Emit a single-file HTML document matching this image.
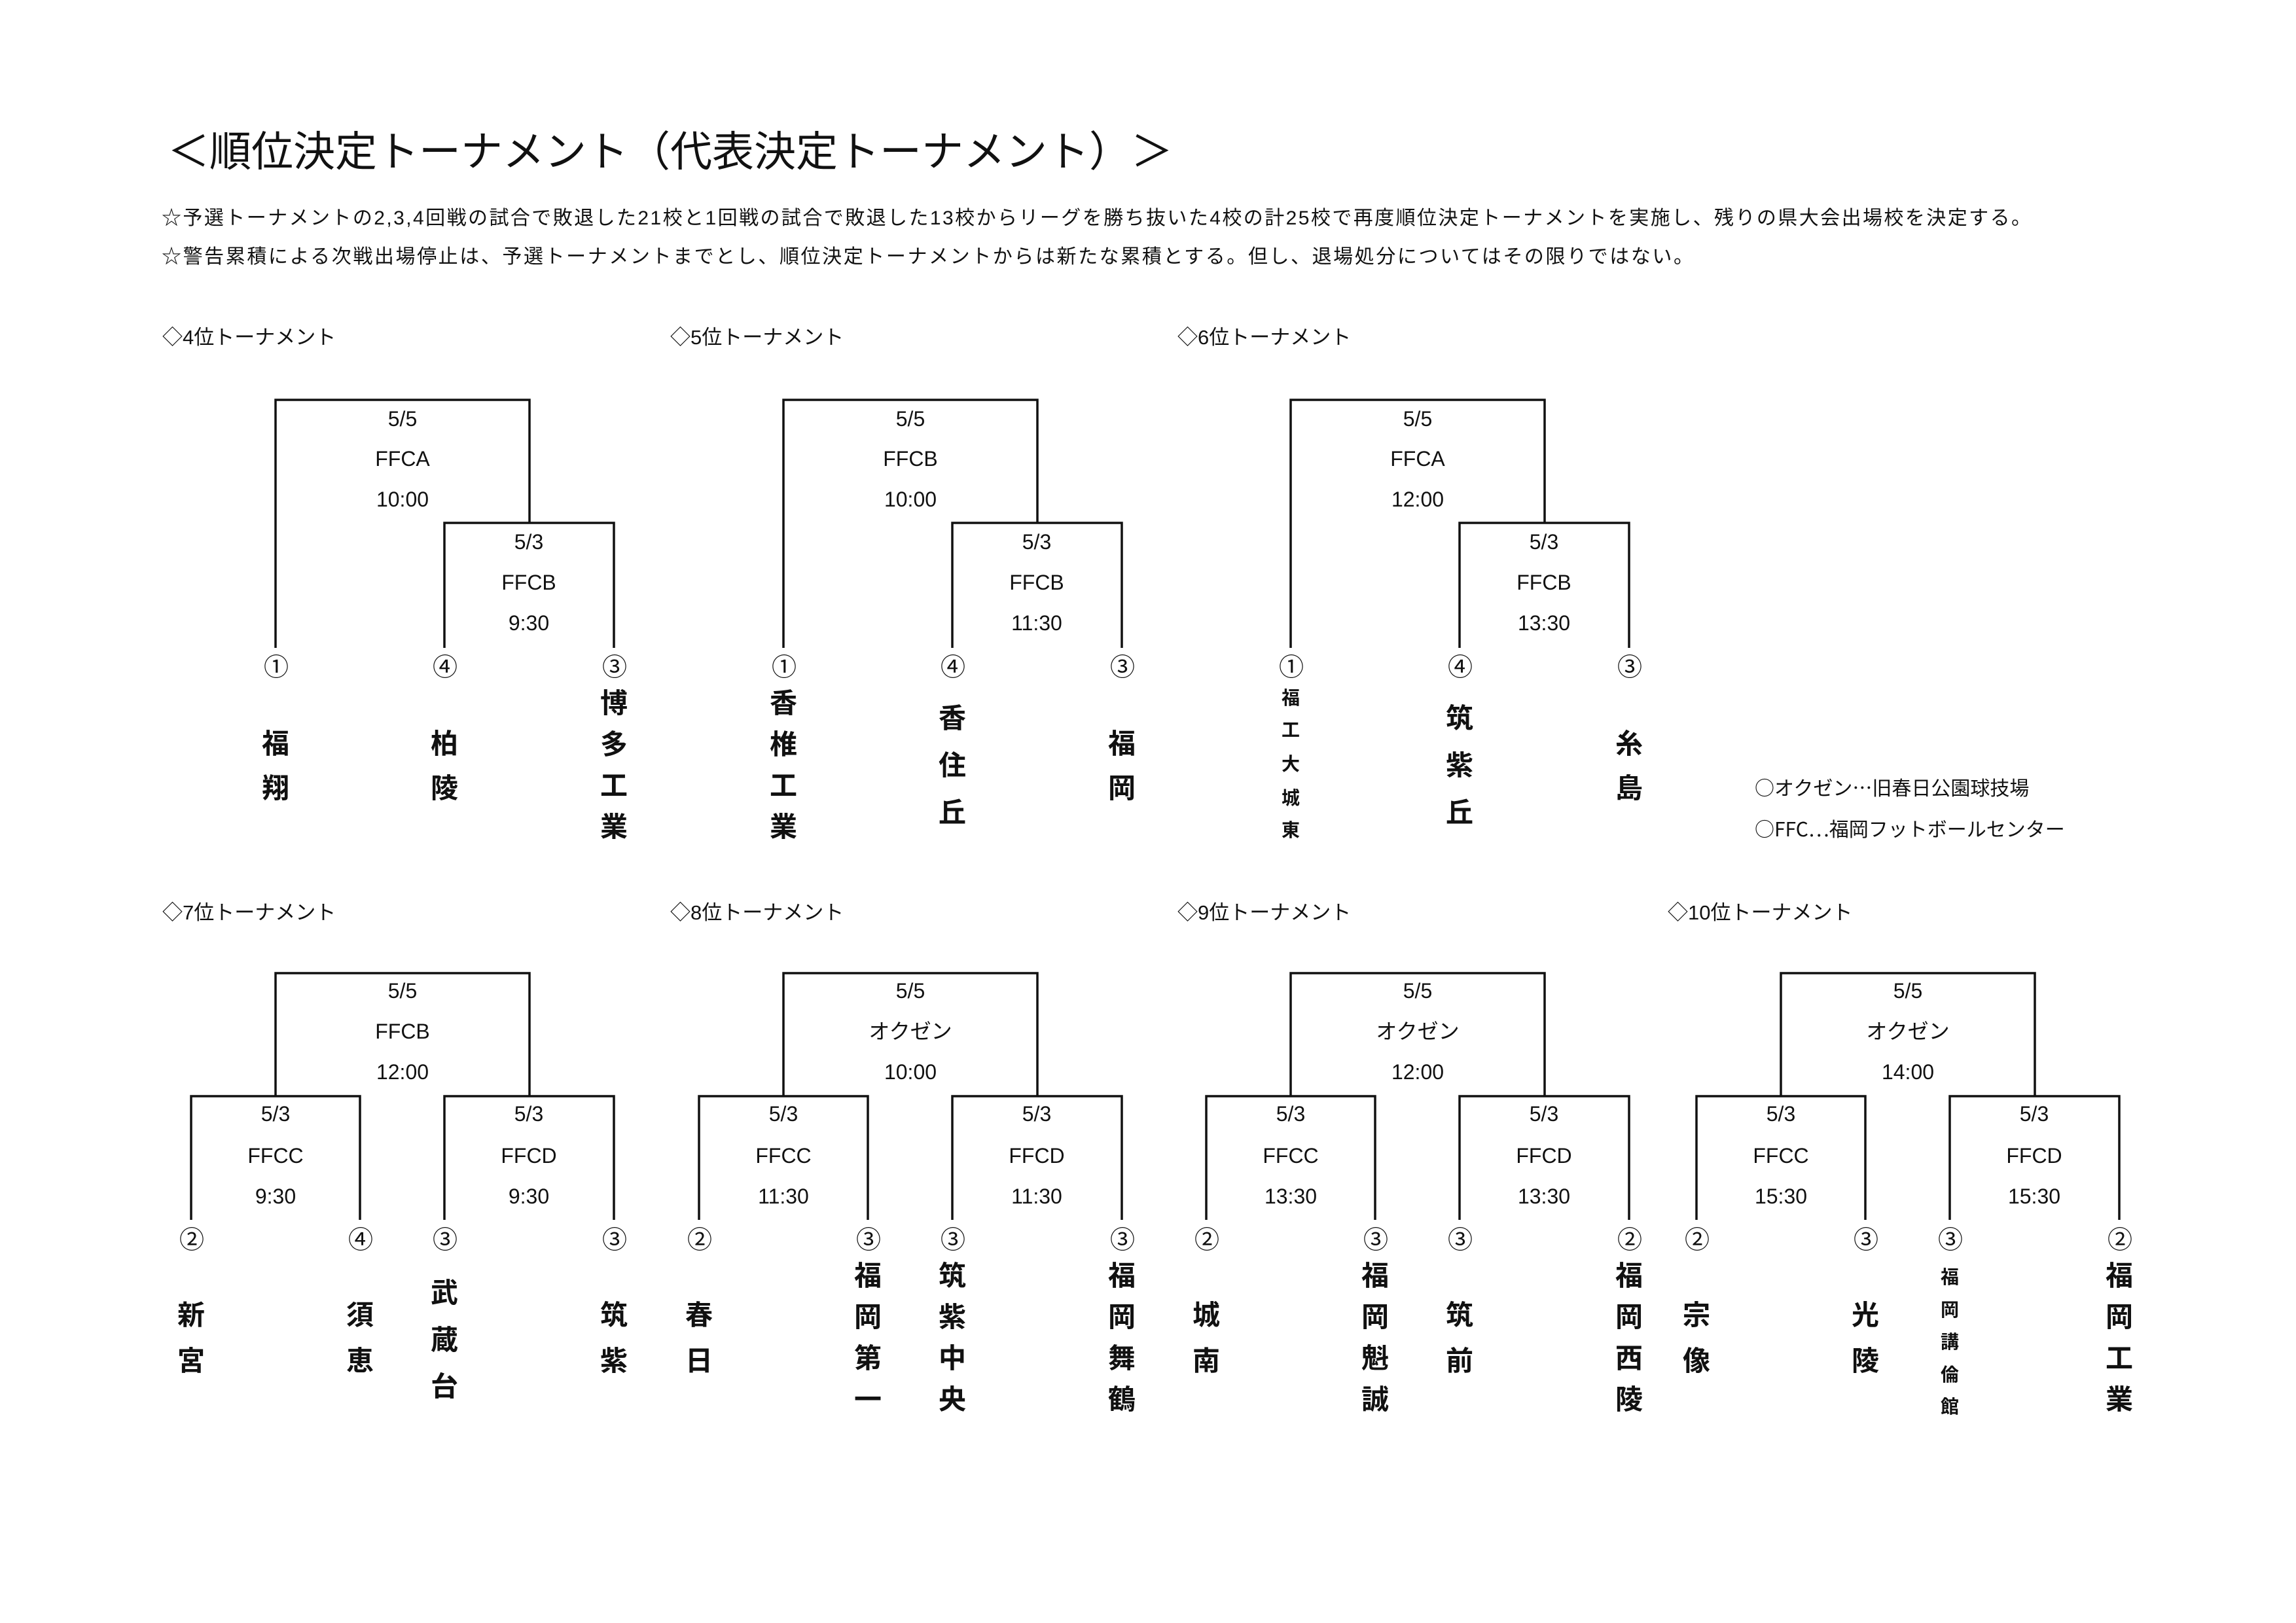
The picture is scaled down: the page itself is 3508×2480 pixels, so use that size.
<!DOCTYPE html>
<html><head><meta charset="utf-8">
<style>
html,body{margin:0;padding:0;background:#fff;}
svg{display:block;}
text{font-family:"Liberation Sans","Noto Sans CJK JP",sans-serif;fill:#111;}
.t{font-size:64px;}
.p{font-size:30px;}
.h{font-size:31px;}
.nt{font-family:"Noto Sans CJK JP",sans-serif;font-size:30px;}
.l{font-size:32px;text-anchor:middle;dominant-baseline:central;}
.c{font-family:"Noto Sans CJK JP",sans-serif;font-size:38px;text-anchor:middle;dominant-baseline:central;}
.n{font-family:"Noto Sans CJK JP",sans-serif;font-size:42px;font-weight:700;text-anchor:middle;dominant-baseline:central;}
.s{font-family:"Noto Sans CJK JP",sans-serif;font-size:28px;font-weight:700;text-anchor:middle;dominant-baseline:central;}
path{fill:none;stroke:#111;stroke-width:3.5;}
</style></head><body>
<svg width="3508" height="2480" viewBox="0 0 3508 2480" xmlns="http://www.w3.org/2000/svg">
<rect width="3508" height="2480" fill="#fff"/>
<text class="t" x="256" y="254">＜順位決定トーナメント（代表決定トーナメント）＞</text>
<text class="p" x="247" y="343" textLength="2856" lengthAdjust="spacing">☆予選トーナメントの2,3,4回戦の試合で敗退した21校と1回戦の試合で敗退した13校からリーグを勝ち抜いた4校の計25校で再度順位決定トーナメントを実施し、残りの県大会出場校を決定する。</text>
<text class="p" x="247" y="402" textLength="2340" lengthAdjust="spacing">☆警告累積による次戦出場停止は、予選トーナメントまでとし、順位決定トーナメントからは新たな累積とする。但し、退場処分についてはその限りではない。</text>

<text class="nt" x="2681" y="1215">○オクゼン…旧春日公園球技場</text>
<text class="nt" x="2681" y="1278">○FFC…福岡フットボールセンター</text>

<!-- ===== column 1 (4位 / 7位) ===== -->
<g>
<text class="h" x="248" y="526">◇4位トーナメント</text>
<path d="M421,990 V611 H809 V799 M679,990 V799 H938 V990"/>
<text class="l" x="615" y="640">5/5</text><text class="l" x="615" y="701">FFCA</text><text class="l" x="615" y="763">10:00</text>
<text class="l" x="808" y="828">5/3</text><text class="l" x="808" y="890">FFCB</text><text class="l" x="808" y="952">9:30</text>
<text class="c" x="422" y="1016">①</text><text class="c" x="680" y="1016">④</text><text class="c" x="939" y="1016">③</text>
<g transform="translate(0,-8)">
<text class="n"><tspan x="421" y="1141">福</tspan><tspan x="421" y="1209">翔</tspan></text>
<text class="n"><tspan x="679" y="1141">柏</tspan><tspan x="679" y="1209">陵</tspan></text>
<text class="n"><tspan x="938" y="1079">博</tspan><tspan x="938" y="1142">多</tspan><tspan x="938" y="1205">工</tspan><tspan x="938" y="1268">業</tspan></text>
</g>

<text class="h" x="248" y="1405">◇7位トーナメント</text>
<path d="M292,1864 V1675 H550 V1864 M679,1864 V1675 H938 V1864 M421,1675 V1487 H809 V1675"/>
<text class="l" x="615" y="1514">5/5</text><text class="l" x="615" y="1576">FFCB</text><text class="l" x="615" y="1638">12:00</text>
<text class="l" x="421" y="1702">5/3</text><text class="l" x="421" y="1766">FFCC</text><text class="l" x="421" y="1828">9:30</text>
<text class="l" x="808" y="1702">5/3</text><text class="l" x="808" y="1766">FFCD</text><text class="l" x="808" y="1828">9:30</text>
<text class="c" x="293" y="1891">②</text><text class="c" x="551" y="1891">④</text><text class="c" x="680" y="1891">③</text><text class="c" x="939" y="1891">③</text>
<g transform="translate(0,-6)">
<text class="n"><tspan x="292" y="2012">新</tspan><tspan x="292" y="2082">宮</tspan></text>
<text class="n"><tspan x="550" y="2012">須</tspan><tspan x="550" y="2082">恵</tspan></text>
<text class="n"><tspan x="679" y="1978">武</tspan><tspan x="679" y="2050">蔵</tspan><tspan x="679" y="2121">台</tspan></text>
<text class="n"><tspan x="938" y="2012">筑</tspan><tspan x="938" y="2082">紫</tspan></text>
</g>
</g>

<!-- ===== column 2 (5位 / 8位) ===== -->
<g transform="translate(776,0)">
<text class="h" x="248" y="526">◇5位トーナメント</text>
<path d="M421,990 V611 H809 V799 M679,990 V799 H938 V990"/>
<text class="l" x="615" y="640">5/5</text><text class="l" x="615" y="701">FFCB</text><text class="l" x="615" y="763">10:00</text>
<text class="l" x="808" y="828">5/3</text><text class="l" x="808" y="890">FFCB</text><text class="l" x="808" y="952">11:30</text>
<text class="c" x="422" y="1016">①</text><text class="c" x="680" y="1016">④</text><text class="c" x="939" y="1016">③</text>
<g transform="translate(0,-8)">
<text class="n"><tspan x="421" y="1079">香</tspan><tspan x="421" y="1142">椎</tspan><tspan x="421" y="1205">工</tspan><tspan x="421" y="1268">業</tspan></text>
<text class="n"><tspan x="679" y="1102">香</tspan><tspan x="679" y="1174">住</tspan><tspan x="679" y="1246">丘</tspan></text>
<text class="n"><tspan x="938" y="1141">福</tspan><tspan x="938" y="1209">岡</tspan></text>
</g>

<text class="h" x="248" y="1405">◇8位トーナメント</text>
<path d="M292,1864 V1675 H550 V1864 M679,1864 V1675 H938 V1864 M421,1675 V1487 H809 V1675"/>
<text class="l" x="615" y="1514">5/5</text><text class="l" x="615" y="1576">オクゼン</text><text class="l" x="615" y="1638">10:00</text>
<text class="l" x="421" y="1702">5/3</text><text class="l" x="421" y="1766">FFCC</text><text class="l" x="421" y="1828">11:30</text>
<text class="l" x="808" y="1702">5/3</text><text class="l" x="808" y="1766">FFCD</text><text class="l" x="808" y="1828">11:30</text>
<text class="c" x="293" y="1891">②</text><text class="c" x="551" y="1891">③</text><text class="c" x="680" y="1891">③</text><text class="c" x="939" y="1891">③</text>
<g transform="translate(0,-6)">
<text class="n"><tspan x="292" y="2012">春</tspan><tspan x="292" y="2082">日</tspan></text>
<text class="n"><tspan x="550" y="1952">福</tspan><tspan x="550" y="2015">岡</tspan><tspan x="550" y="2078">第</tspan><tspan x="550" y="2141">一</tspan></text>
<text class="n"><tspan x="679" y="1952">筑</tspan><tspan x="679" y="2015">紫</tspan><tspan x="679" y="2078">中</tspan><tspan x="679" y="2141">央</tspan></text>
<text class="n"><tspan x="938" y="1952">福</tspan><tspan x="938" y="2015">岡</tspan><tspan x="938" y="2078">舞</tspan><tspan x="938" y="2141">鶴</tspan></text>
</g>
</g>

<!-- ===== column 3 (6位 / 9位) ===== -->
<g transform="translate(1551,0)">
<text class="h" x="248" y="526">◇6位トーナメント</text>
<path d="M421,990 V611 H809 V799 M679,990 V799 H938 V990"/>
<text class="l" x="615" y="640">5/5</text><text class="l" x="615" y="701">FFCA</text><text class="l" x="615" y="763">12:00</text>
<text class="l" x="808" y="828">5/3</text><text class="l" x="808" y="890">FFCB</text><text class="l" x="808" y="952">13:30</text>
<text class="c" x="422" y="1016">①</text><text class="c" x="680" y="1016">④</text><text class="c" x="939" y="1016">③</text>
<g transform="translate(0,-8)">
<text class="s"><tspan x="421" y="1073">福</tspan><tspan x="421" y="1122">工</tspan><tspan x="421" y="1174">大</tspan><tspan x="421" y="1226">城</tspan><tspan x="421" y="1275">東</tspan></text>
<text class="n"><tspan x="679" y="1102">筑</tspan><tspan x="679" y="1174">紫</tspan><tspan x="679" y="1246">丘</tspan></text>
<text class="n"><tspan x="938" y="1141">糸</tspan><tspan x="938" y="1209">島</tspan></text>
</g>

<text class="h" x="248" y="1405">◇9位トーナメント</text>
<path d="M292,1864 V1675 H550 V1864 M679,1864 V1675 H938 V1864 M421,1675 V1487 H809 V1675"/>
<text class="l" x="615" y="1514">5/5</text><text class="l" x="615" y="1576">オクゼン</text><text class="l" x="615" y="1638">12:00</text>
<text class="l" x="421" y="1702">5/3</text><text class="l" x="421" y="1766">FFCC</text><text class="l" x="421" y="1828">13:30</text>
<text class="l" x="808" y="1702">5/3</text><text class="l" x="808" y="1766">FFCD</text><text class="l" x="808" y="1828">13:30</text>
<text class="c" x="293" y="1891">②</text><text class="c" x="551" y="1891">③</text><text class="c" x="680" y="1891">③</text><text class="c" x="939" y="1891">②</text>
<g transform="translate(0,-6)">
<text class="n"><tspan x="292" y="2012">城</tspan><tspan x="292" y="2082">南</tspan></text>
<text class="n"><tspan x="550" y="1952">福</tspan><tspan x="550" y="2015">岡</tspan><tspan x="550" y="2078">魁</tspan><tspan x="550" y="2141">誠</tspan></text>
<text class="n"><tspan x="679" y="2012">筑</tspan><tspan x="679" y="2082">前</tspan></text>
<text class="n"><tspan x="938" y="1952">福</tspan><tspan x="938" y="2015">岡</tspan><tspan x="938" y="2078">西</tspan><tspan x="938" y="2141">陵</tspan></text>
</g>
</g>

<!-- ===== 10位 ===== -->
<g transform="translate(2300,0)">
<text class="h" x="248" y="1405">◇10位トーナメント</text>
<path d="M292,1864 V1675 H550 V1864 M679,1864 V1675 H938 V1864 M421,1675 V1487 H809 V1675"/>
<text class="l" x="615" y="1514">5/5</text><text class="l" x="615" y="1576">オクゼン</text><text class="l" x="615" y="1638">14:00</text>
<text class="l" x="421" y="1702">5/3</text><text class="l" x="421" y="1766">FFCC</text><text class="l" x="421" y="1828">15:30</text>
<text class="l" x="808" y="1702">5/3</text><text class="l" x="808" y="1766">FFCD</text><text class="l" x="808" y="1828">15:30</text>
<text class="c" x="293" y="1891">②</text><text class="c" x="551" y="1891">③</text><text class="c" x="680" y="1891">③</text><text class="c" x="939" y="1891">②</text>
<g transform="translate(0,-6)">
<text class="n"><tspan x="292" y="2012">宗</tspan><tspan x="292" y="2082">像</tspan></text>
<text class="n"><tspan x="550" y="2012">光</tspan><tspan x="550" y="2082">陵</tspan></text>
<text class="s"><tspan x="679" y="1956">福</tspan><tspan x="679" y="2006">岡</tspan><tspan x="679" y="2055">講</tspan><tspan x="679" y="2105">倫</tspan><tspan x="679" y="2154">館</tspan></text>
<text class="n"><tspan x="938" y="1952">福</tspan><tspan x="938" y="2015">岡</tspan><tspan x="938" y="2078">工</tspan><tspan x="938" y="2141">業</tspan></text>
</g>
</g>
</svg>
</body></html>
